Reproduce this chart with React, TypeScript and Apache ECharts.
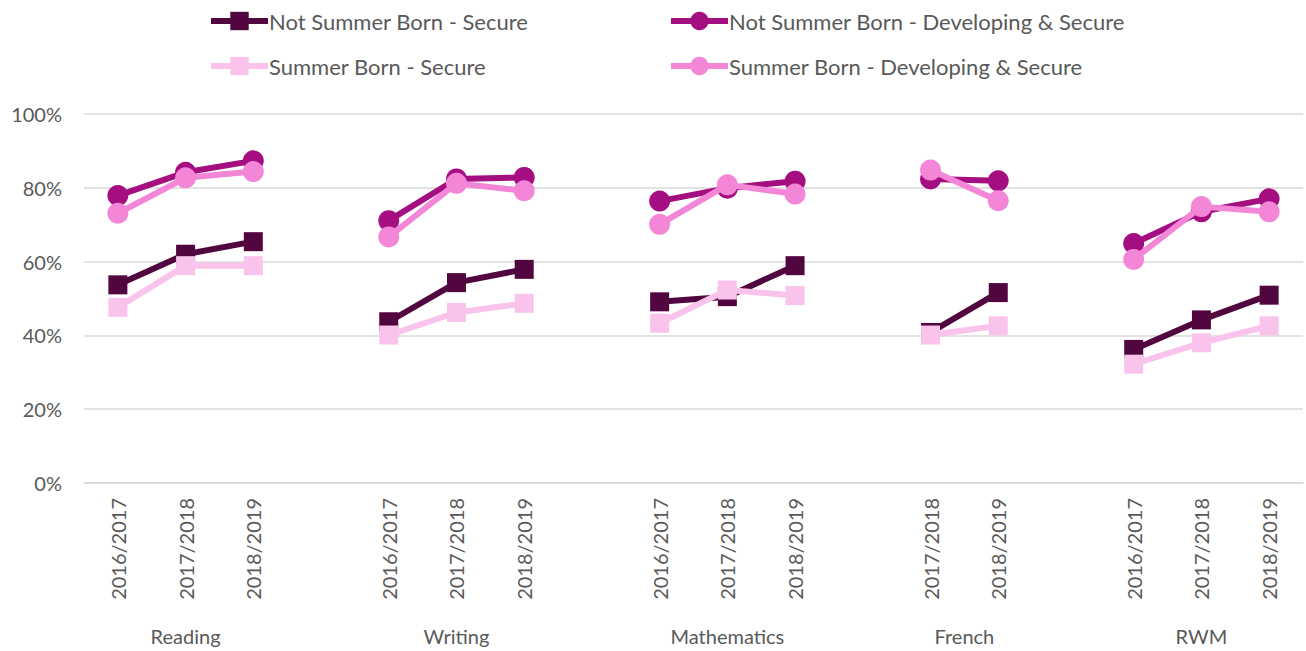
import React, { useEffect, useRef } from 'react';
import * as echarts from 'echarts';

const groupNames = ['Reading', 'Writing', 'Mathematics', 'French', 'RWM'];
const groupYears = [
  ['2016/2017', '2017/2018', '2018/2019'],
  ['2016/2017', '2017/2018', '2018/2019'],
  ['2016/2017', '2017/2018', '2018/2019'],
  ['2017/2018', '2018/2019'],
  ['2016/2017', '2017/2018', '2018/2019'],
];

const notSummerSecure = [
  [53.7, 62.0, 65.4],
  [43.7, 54.3, 57.9],
  [49.1, 50.5, 58.9],
  [40.8, 51.6],
  [36.2, 44.2, 50.9],
];
const notSummerDevSecure = [
  [77.9, 84.2, 87.3],
  [71.1, 82.4, 82.8],
  [76.4, 79.9, 81.8],
  [82.4, 81.9],
  [64.9, 73.5, 77.0],
];
const summerSecure = [
  [47.6, 58.9, 58.9],
  [40.1, 46.2, 48.7],
  [43.3, 52.3, 50.8],
  [40.1, 42.6],
  [32.2, 38.0, 42.6],
];
const summerDevSecure = [
  [73.1, 82.7, 84.4],
  [66.7, 81.2, 79.2],
  [70.1, 80.8, 78.3],
  [84.8, 76.5],
  [60.6, 74.9, 73.5],
];

const seriesNames = [
  'Not Summer Born - Secure',
  'Not Summer Born - Developing & Secure',
  'Summer Born - Secure',
  'Summer Born - Developing & Secure',
];
const seriesColors = ['#52063F', '#A40E80', '#FAC3EB', '#F386D7'];

function flattenWithGaps<T>(groups: T[][], gap: T): T[] {
  const out: T[] = [];
  groups.forEach((g, i) => {
    if (i > 0) out.push(gap);
    out.push(...g);
  });
  return out;
}

const categories = flattenWithGaps<string>(groupYears, '');

// centre of each group, in category units
const groupCenters: number[] = [];
{
  let start = 0;
  groupYears.forEach((g) => {
    groupCenters.push(start + g.length / 2);
    start += g.length + 1;
  });
}

const TEXT = '#595959';
const FONT = 'Lato';

export default function App() {
  const ref = useRef<HTMLDivElement>(null);
  useEffect(() => {
    document.body.style.margin = '0';
    if (!ref.current) return;
    const chart = echarts.init(ref.current, null, { renderer: 'svg' });
    const datasets = [notSummerSecure, notSummerDevSecure, summerSecure, summerDevSecure];
    const symbols = ['rect', 'circle', 'rect', 'circle'];
    const symbolSizes = [19, 21, 19, 21];
    const legendPos = [
      { left: 208, top: 10 },
      { left: 668, top: 10 },
      { left: 208, top: 55 },
      { left: 668, top: 55 },
    ];
    chart.setOption({
      animation: false,
      textStyle: { fontFamily: FONT },
      legend: seriesNames.map((n, i) => ({
        data: [n],
        left: legendPos[i].left,
        top: legendPos[i].top,
        padding: 0,
        itemWidth: 57,
        itemHeight: 23,
        itemGap: 3,
        lineStyle: { width: 6 },
        textStyle: { color: TEXT, fontSize: 22, fontFamily: FONT, padding: [0, 0, 0, -4] },
      })),
      grid: { left: 84, right: 3, top: 114, bottom: 168, containLabel: false },
      xAxis: [
        {
          type: 'category',
          data: categories,
          boundaryGap: true,
          axisLine: { show: true, lineStyle: { color: '#D9D9D9', width: 1.5 } },
          axisTick: { show: false },
          axisLabel: {
            interval: 0,
            rotate: 90,
            margin: 15,
            color: TEXT,
            fontSize: 20,
            fontFamily: FONT,
          },
        },
        {
          type: 'value',
          position: 'bottom',
          min: 0,
          max: categories.length,
          interval: 0.5,
          axisLine: { show: false },
          axisTick: { show: false },
          splitLine: { show: false },
          axisLabel: {
            margin: 143,
            color: TEXT,
            fontSize: 20,
            fontFamily: FONT,
            showMinLabel: true,
            showMaxLabel: true,
            formatter: (v: number) => {
              const idx = groupCenters.findIndex((c) => Math.abs(c - v) < 1e-6);
              return idx >= 0 ? groupNames[idx] : '';
            },
          },
        },
      ],
      yAxis: {
        type: 'value',
        min: 0,
        max: 100,
        interval: 20,
        axisLine: { show: false },
        axisTick: { show: false },
        splitLine: { lineStyle: { color: '#D9D9D9', width: 1.5 } },
        axisLabel: {
          formatter: '{value}%',
          margin: 22,
          color: TEXT,
          fontSize: 20,
          fontFamily: FONT,
        },
      },
      series: seriesNames.map((n, i) => ({
        name: n,
        type: 'line',
        xAxisIndex: 0,
        data: flattenWithGaps<number | null>(datasets[i], null),
        connectNulls: false,
        symbol: symbols[i],
        symbolSize: symbolSizes[i],
        showAllSymbol: true,
        color: seriesColors[i],
        lineStyle: { width: 6, color: seriesColors[i] },
        itemStyle: { color: seriesColors[i] },
        emphasis: { disabled: true },
        z: 2 + i,
      })),
    });
    return () => chart.dispose();
  }, []);
  return <div ref={ref} style={{ width: 1306, height: 651 }} />;
}
